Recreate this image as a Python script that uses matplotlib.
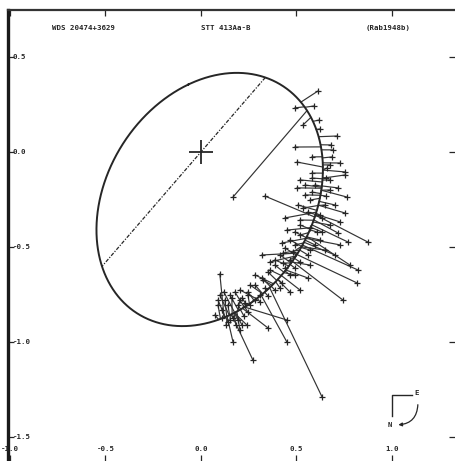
import numpy as np
import matplotlib
matplotlib.use("Agg")
import matplotlib.pyplot as plt
from matplotlib.patches import FancyArrowPatch

# apparent orbit, elements (plot frame: x right = E, y up)
node_angle = 49.3   # direction of the ascending node in the plot, deg
incl = 42.4         # deg
ecc = 0.413
omega = 59.2        # deg, from node
a_sem = 0.755       # arcsec

# observed positions and the ephemeris positions they are joined to
obs_x = [0.613, 0.492, 0.592, 0.534, 0.618, 0.623, 0.712, 0.492, 0.681, 0.691,
         0.581, 0.686, 0.503, 0.728, 0.754, 0.581, 0.675, 0.168, 0.754, 0.660,
         0.518, 0.503, 0.764, 0.754, 0.874, 0.770, 0.717, 0.440, 0.450, 0.424,
         0.429, 0.319, 0.361, 0.482, 0.607, 0.675, 0.571, 0.534, 0.780, 0.335,
         0.099, 0.429, 0.822, 0.817, 0.743, 0.560, 0.518, 0.466, 0.414, 0.325,
         0.450, 0.351, 0.450, 0.168, 0.241, 0.272, 0.634, 0.728, 0.126, 0.141,
         0.162, 0.204, 0.230, 0.110, 0.152, 0.183, 0.204, 0.131, 0.257, 0.283,
         0.309, 0.246, 0.089, 0.073, 0.361, 0.387, 0.283, 0.335, 0.257, 0.204,
         0.440, 0.492, 0.571, 0.597, 0.545, 0.649, 0.675, 0.518, 0.623, 0.518,
         0.492, 0.649, 0.571, 0.702, 0.466, 0.623, 0.675,
         0.581, 0.654, 0.545, 0.717, 0.581, 0.654, 0.508, 0.702, 0.560, 0.634,
         0.518, 0.728, 0.571, 0.492, 0.634, 0.466, 0.597, 0.440, 0.560, 0.414,
         0.518, 0.387, 0.492, 0.351, 0.466, 0.319, 0.424, 0.283, 0.387, 0.246,
         0.351, 0.215, 0.309, 0.194, 0.099, 0.120, 0.152, 0.178, 0.110, 0.141,
         0.168, 0.194, 0.225, 0.215, 0.089, 0.246]
obs_y = [0.321, 0.232, 0.242, 0.142, 0.168, 0.121, 0.084, 0.026, 0.037, 0.011,
         -0.026, -0.026, -0.053, -0.058, -0.105, -0.111, -0.068, -0.237, -0.121, -0.084,
         -0.147, -0.189, -0.237, -0.321, -0.474, -0.474, -0.426, -0.347, -0.411, -0.479,
         -0.532, -0.542, -0.579, -0.526, -0.421, -0.384, -0.253, -0.295, -0.595, -0.232,
         -0.642, -0.584, -0.621, -0.689, -0.779, -0.663, -0.726, -0.737, -0.716, -0.674,
         -0.884, -0.926, -1.000, -1.000, -0.911, -1.095, -1.289, -0.489, -0.779, -0.805,
         -0.768, -0.779, -0.795, -0.832, -0.884, -0.911, -0.937, -0.911, -0.805, -0.779,
         -0.753, -0.753, -0.805, -0.858, -0.621, -0.568, -0.647, -0.716, -0.700, -0.726,
         -0.611, -0.647, -0.595, -0.174, -0.226, -0.279, -0.200, -0.358, -0.463, -0.437,
         -0.489, -0.516, -0.516, -0.542, -0.568, -0.332, -0.147,
         -0.137, -0.137, -0.174, -0.189, -0.211, -0.232, -0.279, -0.279, -0.316, -0.347,
         -0.384, -0.368, -0.400, -0.421, -0.421, -0.463, -0.489, -0.505, -0.542, -0.542,
         -0.579, -0.595, -0.611, -0.632, -0.647, -0.663, -0.689, -0.700, -0.726, -0.737,
         -0.758, -0.768, -0.789, -0.805, -0.753, -0.737, -0.753, -0.737, -0.874, -0.895,
         -0.874, -0.884, -0.863, -0.911, -0.779, -0.842]
pred_x = [0.518, 0.534, 0.539, 0.571, 0.581, 0.597, 0.613, 0.623, 0.623, 0.628,
          0.628, 0.628, 0.634, 0.634, 0.634, 0.634, 0.634, 0.545, 0.634, 0.634,
          0.628, 0.623, 0.623, 0.613, 0.602, 0.581, 0.592, 0.602, 0.581, 0.545,
          0.518, 0.508, 0.497, 0.529, 0.576, 0.586, 0.618, 0.607, 0.560, 0.607,
          0.115, 0.466, 0.529, 0.508, 0.482, 0.445, 0.424, 0.403, 0.393, 0.372,
          0.246, 0.230, 0.335, 0.141, 0.178, 0.162, 0.361, 0.545, 0.131, 0.147,
          0.162, 0.194, 0.220, 0.120, 0.152, 0.173, 0.188, 0.141, 0.241, 0.267,
          0.293, 0.257, 0.099, 0.089, 0.424, 0.461, 0.382, 0.351, 0.325, 0.293,
          0.450, 0.435, 0.476, 0.623, 0.618, 0.607, 0.623, 0.586, 0.555, 0.565,
          0.539, 0.529, 0.529, 0.545, 0.497, 0.597, 0.628,
          0.581, 0.654, 0.545, 0.717, 0.581, 0.654, 0.508, 0.702, 0.560, 0.634,
          0.518, 0.728, 0.571, 0.492, 0.634, 0.466, 0.597, 0.440, 0.560, 0.414,
          0.518, 0.387, 0.492, 0.351, 0.466, 0.319, 0.424, 0.283, 0.387, 0.246,
          0.351, 0.215, 0.309, 0.194, 0.099, 0.120, 0.152, 0.178, 0.110, 0.141,
          0.168, 0.194, 0.225, 0.215, 0.089, 0.246]
pred_y = [0.258, 0.232, 0.232, 0.179, 0.158, 0.116, 0.079, 0.026, 0.037, 0.011,
          -0.026, -0.032, -0.079, -0.058, -0.095, -0.111, -0.068, 0.211, -0.137, -0.095,
          -0.158, -0.189, -0.200, -0.279, -0.332, -0.384, -0.358, -0.316, -0.400, -0.453,
          -0.516, -0.532, -0.547, -0.495, -0.411, -0.368, -0.242, -0.279, -0.447, -0.347,
          -0.853, -0.579, -0.489, -0.542, -0.579, -0.621, -0.653, -0.674, -0.684, -0.700,
          -0.842, -0.842, -0.779, -0.874, -0.853, -0.858, -0.716, -0.453, -0.858, -0.853,
          -0.847, -0.837, -0.826, -0.863, -0.853, -0.847, -0.842, -0.863, -0.816, -0.800,
          -0.779, -0.805, -0.868, -0.874, -0.653, -0.600, -0.695, -0.726, -0.747, -0.774,
          -0.611, -0.637, -0.579, -0.179, -0.226, -0.279, -0.200, -0.358, -0.447, -0.426,
          -0.479, -0.500, -0.505, -0.479, -0.547, -0.321, -0.147,
          -0.137, -0.137, -0.174, -0.189, -0.211, -0.232, -0.279, -0.279, -0.316, -0.347,
          -0.384, -0.368, -0.400, -0.421, -0.421, -0.463, -0.489, -0.505, -0.542, -0.542,
          -0.579, -0.595, -0.611, -0.632, -0.647, -0.663, -0.689, -0.700, -0.726, -0.737,
          -0.758, -0.768, -0.789, -0.805, -0.753, -0.737, -0.753, -0.737, -0.874, -0.895,
          -0.874, -0.884, -0.863, -0.911, -0.779, -0.842]

x_ticks = [-1.0, -0.5, 0.0, 0.5, 1.0]
y_ticks = [0.5, 0.0, -0.5, -1.0, -1.5]
title_left = "WDS 20474+3629"
title_mid = "STT 413Aa-B"
title_right = "(Rab1948b)"


def orbit_xy(v):
    # position on the apparent orbit for true anomaly v (rad)
    p = a_sem * (1 - ecc**2)
    r = p / (1 + ecc * np.cos(v))
    u = v + np.radians(omega)
    n = r * np.cos(u)
    m = r * np.sin(u) * np.cos(np.radians(incl))
    phi = np.radians(node_angle)
    return n * np.cos(phi) - m * np.sin(phi), n * np.sin(phi) + m * np.cos(phi)


ink = "#262626"
fig = plt.figure(figsize=(4.55, 4.61), dpi=100)
ax = fig.add_axes([8 / 455, 0, 447 / 455, 451 / 461])
ax.set_xlim(-1.01, 1.33)
ax.set_ylim(-1.626, 0.747)

vv = np.linspace(0, 2 * np.pi, 3000)
ex, ey = orbit_xy(vv)
ax.plot(ex, ey, color=ink, lw=1.4, zorder=3)

# line of nodes
nx, ny = orbit_xy(np.radians([-omega, 180 - omega]))
ax.plot(nx, ny, color=ink, lw=0.9, dashes=(3, 1.2, 1, 1.2), zorder=2)

# primary
ax.plot([0], [0], marker="+", ms=17, mew=1.3, color=ink, zorder=4)

# O-C lines: each observation joined to its point on the orbit
for ox, oy, px, py in zip(obs_x, obs_y, pred_x, pred_y):
    k = np.argmin((ex - px) ** 2 + (ey - py) ** 2)
    ax.plot([ox, ex[k]], [oy, ey[k]], color="#333333", lw=0.85, zorder=2)
ax.plot(obs_x, obs_y, ls="none", marker="+", ms=4.5, mew=0.9, color=ink, zorder=3)

# frame and ticks
for s in ("bottom", "right"):
    ax.spines[s].set_visible(False)
ax.spines["left"].set_linewidth(2.4)
ax.spines["top"].set_linewidth(1.6)
ax.spines["left"].set_color("#1a1a1a")
ax.spines["top"].set_color("#333333")
ax.set_xticks(x_ticks)
ax.set_yticks(y_ticks)
ax.tick_params(direction="in", length=4, width=0.9, colors=ink,
               top=True, bottom=True, left=True, right=True,
               labelbottom=False, labelleft=False)

mono = dict(family="DejaVu Sans Mono", fontsize=5.3, color=ink, fontweight="bold")
for xt in x_ticks:
    ax.text(xt, -1.565, f"{xt:.1f}", ha="center", va="center", **mono)
for yt in y_ticks:
    ax.text(-0.985, yt, f"{yt:.1f}", ha="left", va="center", **mono)

ax.text(0.098, 0.96, title_left, transform=ax.transAxes, ha="left", va="center", **mono)
ax.text(0.488, 0.96, title_mid, transform=ax.transAxes, ha="center", va="center", **mono)
ax.text(0.9, 0.96, title_right, transform=ax.transAxes, ha="right", va="center", **mono)

# orientation sign
cx, cy = 0.859, 0.146
ax.plot([cx, cx, cx + 0.045], [cy - 0.046, cy, cy], color=ink, lw=1.0,
        transform=ax.transAxes)
ax.text(cx + 0.055, cy + 0.004, "E", transform=ax.transAxes, ha="center", va="center", **mono)
ax.text(cx - 0.005, cy - 0.066, "N", transform=ax.transAxes, ha="center", va="center", **mono)
arr = FancyArrowPatch((cx + 0.058, cy - 0.015), (cx + 0.008, cy - 0.066),
                      transform=ax.transAxes, connectionstyle="arc3,rad=-0.5",
                      arrowstyle="-|>", mutation_scale=5, lw=0.9, color=ink)
ax.add_patch(arr)

fig.savefig("out.png", dpi=100)
